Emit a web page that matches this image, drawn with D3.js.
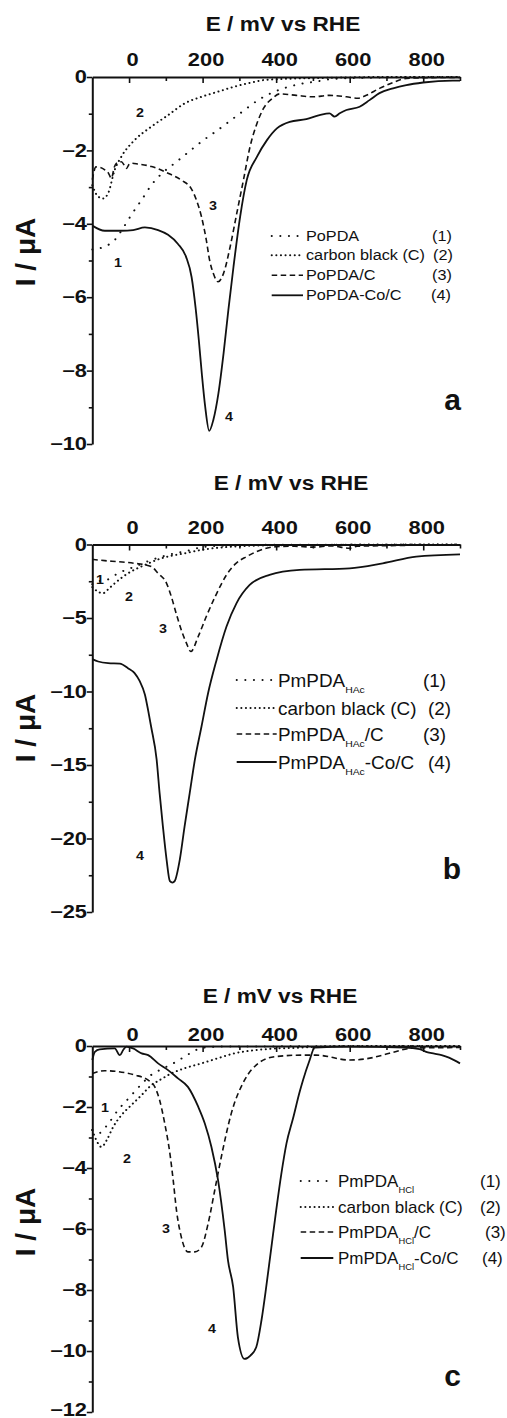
<!DOCTYPE html>
<html>
<head>
<meta charset="utf-8">
<script src="https://cdn.jsdelivr.net/npm/d3@7"></script>
<style>
body { margin: 0; background: #fff; }
svg { display: block; }
text { font-family: "Liberation Sans", Arial, sans-serif; fill: #111; }
</style>
</head>
<body>
<svg id="chart" width="507" height="1418"></svg>
<script>
// E / mV vs RHE  ->  I / uA
const aPoPDA = [[-100,-4.70],[-66,-4.62],[-39,-4.44],[-12,-4.05],[6,-3.76],[34,-3.35],[61,-2.94],[90,-2.62],[124,-2.35],[161,-2.05],[197,-1.76],[242,-1.44],[278,-1.17],[314,-0.90],[351,-0.63],[380,-0.47],[420,-0.31],[466,-0.19],[511,-0.12],[556,-0.05],[650,-0.02],[800,0],[900,0]]
const aCarbon = [[-100,-2.95],[-85,-3.25],[-71,-3.31],[-57,-3.17],[-39,-2.53],[-21,-2.17],[15,-1.72],[61,-1.35],[106,-1.04],[151,-0.72],[197,-0.54],[242,-0.40],[288,-0.26],[333,-0.15],[369,-0.08],[456,-0.04],[556,-0.02],[700,0],[900,0]]
const aPoPDAC = [[-100,-2.80],[-90,-2.45],[-80,-2.46],[-66,-2.53],[-56,-2.62],[-48,-2.76],[-40,-2.45],[-34,-2.35],[-21,-2.31],[-12,-2.42],[-7,-2.49],[0,-2.38],[6,-2.35],[24,-2.37],[61,-2.44],[106,-2.62],[142,-2.81],[169,-3.04],[183,-3.35],[197,-3.81],[210,-4.44],[219,-4.99],[229,-5.35],[242,-5.58],[257,-5.35],[275,-4.62],[293,-3.71],[311,-2.81],[329,-1.90],[348,-1.26],[366,-0.85],[390,-0.58],[410,-0.46],[455,-0.50],[500,-0.54],[545,-0.50],[591,-0.54],[622,-0.58],[645,-0.50],[681,-0.31],[718,-0.15],[754,-0.04],[800,-0.02],[900,-0.01]]
const aPoPDACoC = [[-100,-4.05],[-66,-4.19],[-21,-4.19],[11,-4.17],[43,-4.10],[79,-4.17],[106,-4.30],[133,-4.55],[155,-4.90],[170,-5.45],[181,-6.30],[190,-7.20],[198,-8.10],[207,-8.98],[218,-9.64],[229,-9.35],[243,-8.62],[257,-7.53],[270,-6.35],[284,-5.17],[302,-3.81],[320,-2.81],[348,-2.17],[375,-1.72],[402,-1.40],[437,-1.22],[482,-1.15],[518,-1.04],[545,-0.99],[559,-1.08],[573,-0.99],[591,-0.90],[627,-0.81],[654,-0.63],[681,-0.44],[718,-0.31],[754,-0.22],[800,-0.15],[880,-0.10],[900,-0.10]]

const bPmPDA = [[-100,-2.70],[-93,-2.53],[-61,-2.41],[-30,-1.96],[15,-1.51],[61,-1.05],[106,-0.71],[160,-0.42],[206,-0.15],[300,-0.05],[400,-0.02],[900,0]]
const bCarbon = [[-100,-2.90],[-85,-3.20],[-71,-3.32],[-55,-3.00],[-39,-2.64],[-3,-1.96],[43,-1.39],[88,-0.94],[151,-0.60],[206,-0.33],[278,-0.15],[400,-0.05],[600,-0.02],[900,0]]
const bPmPDAC = [[-100,-1.01],[-66,-1.10],[-30,-1.17],[15,-1.28],[61,-1.51],[79,-1.96],[102,-2.64],[115,-3.55],[128,-4.68],[142,-5.81],[156,-6.71],[168,-7.28],[188,-6.26],[210,-4.90],[235,-3.50],[265,-2.07],[290,-1.30],[319,-0.83],[345,-0.50],[373,-0.26],[400,-0.15],[450,-0.12],[500,-0.18],[550,-0.10],[600,-0.26],[620,-0.12],[700,-0.08],[800,-0.04],[900,-0.02]]
const bPmPDACoC = [[-100,-7.80],[-84,-7.96],[-57,-8.07],[-25,-8.10],[-3,-8.41],[15,-8.75],[29,-9.30],[43,-10.20],[52,-11.30],[60,-12.40],[75,-14.64],[83,-16.90],[92,-19.17],[102,-21.43],[111,-22.90],[118,-23.00],[124,-22.90],[138,-21.43],[151,-19.17],[165,-16.90],[179,-14.64],[197,-12.38],[215,-10.10],[238,-7.85],[265,-5.58],[292,-4.00],[328,-2.75],[382,-2.07],[464,-1.73],[600,-1.62],[690,-1.28],[781,-0.83],[900,-0.67]]

const cPmPDA = [[-100,-2.75],[-80,-2.85],[-60,-2.60],[-30,-2.10],[0,-1.70],[30,-1.30],[60,-0.95],[90,-0.75],[120,-0.57],[151,-0.35],[179,-0.15],[200,-0.06],[250,-0.02],[900,0]]
const cCarbon = [[-100,-2.76],[-89,-3.09],[-75,-3.31],[-61,-3.09],[-43,-2.65],[-21,-2.27],[6,-1.94],[34,-1.61],[61,-1.28],[83,-1.12],[115,-0.90],[151,-0.73],[197,-0.57],[242,-0.40],[287,-0.24],[333,-0.15],[387,-0.09],[450,-0.06],[500,-0.03],[600,0],[900,0]]
const cPmPDAC = [[-100,-0.90],[-66,-0.81],[-30,-0.84],[15,-0.95],[52,-1.12],[70,-1.34],[83,-1.77],[97,-2.54],[111,-3.52],[120,-4.40],[129,-5.39],[142,-6.26],[160,-6.75],[179,-6.75],[197,-6.59],[215,-5.82],[233,-4.73],[251,-3.63],[278,-2.21],[314,-1.12],[351,-0.57],[396,-0.35],[468,-0.30],[509,-0.30],[600,-0.46],[645,-0.42],[708,-0.24],[763,-0.08],[800,-0.06],[900,-0.05]]
const cPmPDACoC = [[-100,-0.46],[-93,-0.19],[-80,-0.11],[-39,-0.08],[-25,-0.30],[-16,-0.13],[-7,-0.02],[11,-0.08],[34,-0.24],[52,-0.30],[79,-0.57],[106,-0.79],[133,-1.06],[160,-1.34],[188,-1.99],[206,-2.54],[224,-3.31],[242,-4.40],[260,-6.04],[269,-7.03],[283,-7.90],[296,-9.55],[314,-10.26],[330,-10.15],[346,-9.87],[360,-9.00],[373,-7.90],[387,-6.60],[400,-5.40],[414,-4.20],[428,-3.20],[446,-2.37],[464,-1.50],[473,-1.12],[490,-0.50],[505,-0.05],[600,-0.02],[750,-0.05],[790,-0.10],[810,-0.20],[830,-0.25],[850,-0.30],[870,-0.38],[900,-0.57]]

const xMajor = [0, 200, 400, 600, 800]
const xMinor = [100, 300, 500, 700, 900]
const aNames = ['PoPDA', 'carbon black (C)', 'PoPDA/C', 'PoPDA-Co/C']
const bNames = ['PmPDA_HAc', 'carbon black (C)', 'PmPDA_HAc/C', 'PmPDA_HAc-Co/C']
const cNames = ['PmPDA_HCl', 'carbon black (C)', 'PmPDA_HCl/C', 'PmPDA_HCl-Co/C']
const numbers = ['(1)', '(2)', '(3)', '(4)']

const styles = [
    { dash: '0.1,8.5', w: 2, cap: 'round' },
    { dash: '0.1,4.5', w: 2, cap: 'round' },
    { dash: '5.5,3.5', w: 1.6, cap: 'butt' },
    { dash: null, w: 1.8, cap: 'butt' }
]

const panels = [
    { letter: 'a', series: [aPoPDA, aCarbon, aPoPDAC, aPoPDACoC], names: aNames,
      top: 77, bottom: 444, yMin: -10, yMajor: d3.range(0, -11, -2), yMinor: d3.range(-1, -10, -2),
      pad: 11, titleX: 283, titleY: 31, yTitleY: 252, letterY: 410,
      leg: { x0: 271.7, x1: 303, nameX: 306, numX: [432, 433, 432, 431], rows: [240.7, 260, 280, 300], size: 14.5, sx: 1.12, off: 4.7 },
      nums: [['2', 140, 112], ['3', 213, 205], ['1', 118, 262], ['4', 229, 416]] },
    { letter: 'b', series: [bPmPDA, bCarbon, bPmPDAC, bPmPDACoC], names: bNames,
      top: 544.5, bottom: 912, yMin: -25, yMajor: d3.range(0, -26, -5), yMinor: d3.range(-2.5, -25, -5),
      pad: 10.5, titleX: 291, titleY: 490, yTitleY: 728, letterY: 879,
      leg: { x0: 236.7, x1: 276.7, nameX: 278, numX: [423, 428, 423, 428], rows: [687, 715, 741, 769], size: 18, sx: 1.05, off: 7 },
      nums: [['1', 100, 579], ['2', 129, 596], ['3', 163, 628], ['4', 140, 855]] },
    { letter: 'c', series: [cPmPDA, cCarbon, cPmPDAC, cPmPDACoC], names: cNames,
      top: 1046, bottom: 1412, yMin: -12, yMajor: d3.range(0, -13, -2), yMinor: d3.range(-1, -12, -2),
      pad: 5, titleX: 280, titleY: 1003, yTitleY: 1222, letterY: 1386,
      leg: { x0: 300.7, x1: 333.3, nameX: 338, numX: [480, 480, 485, 482], rows: [1187, 1213, 1238, 1264], size: 17, sx: 1.0, off: 6 },
      nums: [['1', 105, 1107], ['2', 127, 1158], ['3', 166, 1228], ['4', 212, 1328]] }
]

const svg = d3.select('#chart')
const x = d3.scaleLinear().domain([-100, 900]).range([92.3, 460])

function put (g, px, py, str, size, weight, sx, anchor) {
    return g.append('text').
        attr('transform', `translate(${px},${py}) scale(${sx},1)`).
        attr('font-size', size).
        attr('font-weight', weight).
        attr('text-anchor', anchor).
        text(str)
}

function styleAxis (g, w) {
    g.selectAll('.domain').attr('stroke', '#111').attr('stroke-width', w)
    g.selectAll('.tick line').attr('stroke', '#111').attr('stroke-width', 1.6)
}

panels.forEach(function (p) {
    const y = d3.scaleLinear().domain([0, p.yMin]).range([p.top, p.bottom])
    const g = svg.append('g')

    // curves
    const line = d3.line().x((d) => x(d[0])).y((d) => y(d[1])).curve(d3.curveMonotoneX)
    p.series.forEach(function (s, i) {
        const st = styles[i]
        g.append('path').
            attr('d', line(s)).
            attr('fill', 'none').
            attr('stroke', '#111').
            attr('stroke-width', st.w).
            attr('stroke-linecap', st.cap).
            attr('stroke-linejoin', 'round').
            attr('stroke-dasharray', st.dash)
    })

    // top x axis, ticks pointing into the plot
    const xa = g.append('g').attr('transform', `translate(0,${p.top})`).
        call(d3.axisTop(x).tickValues(xMajor).tickSizeInner(-6).tickSizeOuter(0).tickPadding(p.pad))
    styleAxis(xa, 2)
    xa.selectAll('.tick text').
        attr('transform', 'translate(3,0) scale(1.25,1)').
        attr('font-size', 17.5).attr('font-weight', 'bold').attr('font-family', null).attr('fill', '#111')
    const xm = g.append('g').attr('transform', `translate(0,${p.top})`).
        call(d3.axisTop(x).tickValues(xMinor).tickSizeInner(-4).tickSizeOuter(0).tickFormat(''))
    xm.select('.domain').remove()
    styleAxis(xm, 2)

    // left y axis, ticks pointing out
    const ya = g.append('g').attr('transform', 'translate(92.3,0)').
        call(d3.axisLeft(y).tickValues(p.yMajor).tickSizeInner(5.5).tickSizeOuter(0).tickPadding(0))
    styleAxis(ya, 2)
    ya.selectAll('.tick text').
        attr('x', -5.3 / 1.25).
        attr('dy', (d) => (y(d) > 1405 ? '0.18em' : '0.32em')).
        attr('transform', 'scale(1.25,1)').
        attr('font-size', 17.5).attr('font-weight', 'bold').attr('font-family', null).attr('fill', '#111')
    const ym = g.append('g').attr('transform', 'translate(92.3,0)').
        call(d3.axisLeft(y).tickValues(p.yMinor).tickSizeInner(3.5).tickSizeOuter(0).tickFormat(''))
    ym.select('.domain').remove()
    styleAxis(ym, 2)

    // titles
    put(g, p.titleX, p.titleY, 'E / mV vs RHE', 19.5, 'bold', 1.16, 'middle')
    g.append('text').
        attr('transform', `translate(35,${p.yTitleY}) rotate(-90)`).
        attr('font-size', 28).attr('font-weight', 'bold').attr('text-anchor', 'middle').
        text('I / μA')
    put(g, 461, p.letterY, p.letter, 30, 'bold', 1, 'end')

    // curve numbers
    p.nums.forEach(function (n) {
        put(g, n[1], n[2] + 4.5, n[0], 13, 'bold', 1.1, 'middle')
    })

    // legend
    const L = p.leg
    p.names.forEach(function (name, i) {
        const st = styles[i]
        const ry = L.rows[i]
        g.append('line').
            attr('x1', L.x0).attr('x2', L.x1).
            attr('y1', ry - L.off).attr('y2', ry - L.off).
            attr('stroke', '#111').
            attr('stroke-width', st.w).
            attr('stroke-linecap', st.cap).
            attr('stroke-dasharray', st.dash)
        const t = put(g, L.nameX, ry, '', L.size, 'normal', L.sx, 'start')
        const parts = name.split(/_(HAc|HCl)/)
        parts.forEach(function (part, k) {
            if (k % 2 === 1) {
                t.append('tspan').attr('font-size', L.size * 0.55).attr('dy', L.size * 0.35).text(part)
            } else if (k > 0) {
                t.append('tspan').attr('dy', -L.size * 0.35).text(part)
            } else {
                t.append('tspan').text(part)
            }
        })
        put(g, L.numX[i], ry, numbers[i], L.size, 'normal', L.sx, 'start')
    })
})
</script>
</body>
</html>
